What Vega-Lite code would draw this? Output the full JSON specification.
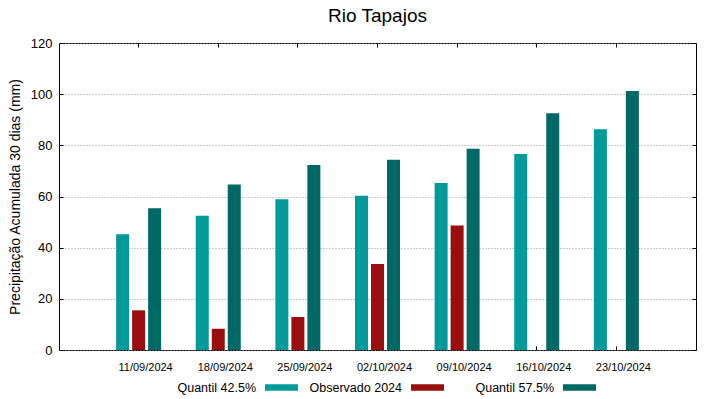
{
  "$schema": "https://vega.github.io/schema/vega-lite/v6.json",
  "width": 637,
  "height": 307,
  "autosize": "none",
  "padding": {"left": 59, "top": 43, "right": 23, "bottom": 49},
  "title": {"text": "Rio Tapajos", "fontSize": 19, "font": "Liberation Sans", "fontWeight": "normal", "anchor": "middle", "offset": 11, "color": "#000000"},
  "config": {"view": {"stroke": "#000000", "strokeWidth": 1}, "font": "Liberation Sans"},
  "data": {"values": [
    {"data": "11/09/2024", "serie": "Quantil 42.5%", "valor": 45.2},
    {"data": "11/09/2024", "serie": "Observado 2024", "valor": 15.5},
    {"data": "11/09/2024", "serie": "Quantil 57.5%", "valor": 55.4},
    {"data": "18/09/2024", "serie": "Quantil 42.5%", "valor": 52.5},
    {"data": "18/09/2024", "serie": "Observado 2024", "valor": 8.3},
    {"data": "18/09/2024", "serie": "Quantil 57.5%", "valor": 64.7},
    {"data": "25/09/2024", "serie": "Quantil 42.5%", "valor": 58.9},
    {"data": "25/09/2024", "serie": "Observado 2024", "valor": 12.9},
    {"data": "25/09/2024", "serie": "Quantil 57.5%", "valor": 72.3},
    {"data": "02/10/2024", "serie": "Quantil 42.5%", "valor": 60.3},
    {"data": "02/10/2024", "serie": "Observado 2024", "valor": 33.6},
    {"data": "02/10/2024", "serie": "Quantil 57.5%", "valor": 74.4},
    {"data": "09/10/2024", "serie": "Quantil 42.5%", "valor": 65.3},
    {"data": "09/10/2024", "serie": "Observado 2024", "valor": 48.7},
    {"data": "09/10/2024", "serie": "Quantil 57.5%", "valor": 78.7},
    {"data": "16/10/2024", "serie": "Quantil 42.5%", "valor": 76.6},
    {"data": "16/10/2024", "serie": "Quantil 57.5%", "valor": 92.5},
    {"data": "23/10/2024", "serie": "Quantil 42.5%", "valor": 86.3},
    {"data": "23/10/2024", "serie": "Quantil 57.5%", "valor": 101.2}
  ]},
  "layer": [
    {
      "mark": {"type": "bar"},
      "encoding": {
        "x": {"field": "data", "type": "ordinal", "sort": null,
          "scale": {"paddingInner": 0.435, "paddingOuter": 0.7175},
          "axis": {"title": null, "orient": "bottom", "labelAngle": 0, "labelFontSize": 11, "labelColor": "#000000", "labelFont": "Liberation Sans", "labelPadding": 15, "labelOffset": 7, "tickSize": -4, "tickColor": "#000000", "domain": false, "grid": false}},
        "xOffset": {"field": "serie", "type": "nominal",
          "scale": {"domain": ["Quantil 42.5%", "Observado 2024", "Quantil 57.5%"], "paddingInner": 0.1875, "paddingOuter": 0}},
        "y": {"field": "valor", "type": "quantitative",
          "scale": {"domain": [0, 120], "nice": false},
          "axis": {"title": "Precipitação Acumulada 30 dias (mm)", "titleFontSize": 14, "titleFontWeight": "normal", "titleColor": "#000000", "titleFont": "Liberation Sans", "titlePadding": 8, "values": [0, 20, 40, 60, 80, 100, 120], "labelFontSize": 13, "labelColor": "#000000", "labelFont": "Liberation Sans", "labelPadding": 11, "tickSize": -4, "tickColor": "#000000", "domain": false, "grid": false}},
        "color": {"field": "serie", "type": "nominal",
          "scale": {"domain": ["Quantil 42.5%", "Observado 2024", "Quantil 57.5%"], "range": ["#009a9a", "#9a0e0e", "#006865"]},
          "legend": {"title": null, "orient": "none", "legendX": 206, "legendY": 328, "direction": "horizontal", "labelFontSize": 12.5, "labelColor": "#000000", "labelFont": "Liberation Sans", "symbolType": "M-1,-0.2L1,-0.2L1,0.2L-1,0.2Z", "symbolSize": 1089, "symbolStrokeWidth": 0, "labelAlign": "right", "labelOffset": -42, "columnPadding": 11, "padding": 0,
            "labelExpr": "datum.label == 'Quantil 57.5%' ? '\u2800\u2800' + datum.label : datum.label"}}
      }
    },
    {
      "mark": {"type": "tick", "opacity": 0},
      "encoding": {
        "x": {"field": "data", "type": "ordinal", "sort": null,
          "axis": {"orient": "top", "title": null, "labels": false, "tickSize": -4, "tickColor": "#000000", "domain": false, "grid": false}},
        "y": {"field": "valor", "type": "quantitative",
          "axis": {"orient": "right", "title": null, "labels": false, "values": [0, 20, 40, 60, 80, 100, 120], "tickSize": -4, "tickColor": "#000000", "domain": false, "grid": true, "gridColor": "#999999", "gridDash": [1, 2], "gridWidth": 1}}
      }
    }
  ],
  "resolve": {"axis": {"x": "independent", "y": "independent"}}
}
